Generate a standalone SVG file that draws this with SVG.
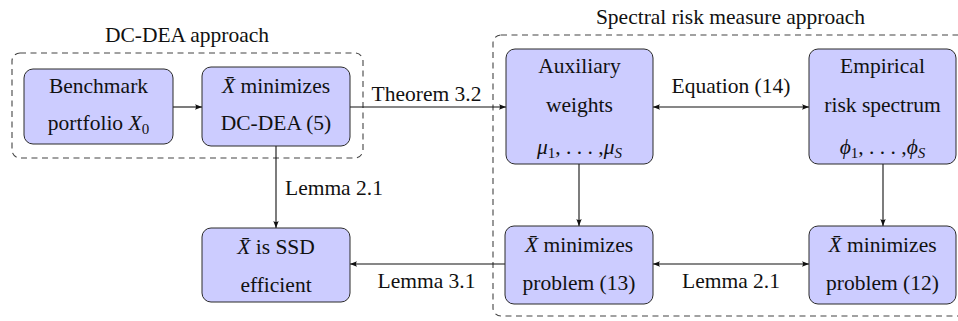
<svg xmlns="http://www.w3.org/2000/svg" width="958" height="321" viewBox="0 0 958 321">
<style>
.node{fill:#ccccff;stroke:#2b2b2b;stroke-width:1}
.grp{fill:none;stroke:#444;stroke-width:1.1;stroke-dasharray:6 4.5}
.t{font-family:"Liberation Serif","Times New Roman",serif;font-size:21.5px;fill:#111;text-anchor:middle}
.l{font-family:"Liberation Serif","Times New Roman",serif;font-size:21.5px;fill:#111}
.i{font-style:italic}
.c{fill:none;stroke:#111;stroke-width:1.1}
</style>
<defs>
<marker id="ah" viewBox="-8 -4 9 8" refX="0" refY="0" markerWidth="9" markerHeight="8" markerUnits="userSpaceOnUse" orient="auto-start-reverse">
<path d="M0,0 L-7,-2.7 Q-5,0 -7,2.7 Z" fill="#111"/>
</marker>
</defs>

<g id="groups">
<rect class="grp" x="12" y="53" width="351" height="105" rx="8"/>
<text class="l" x="187" y="42" text-anchor="middle">DC-DEA approach</text>
<rect class="grp" x="493" y="35" width="480" height="281" rx="8"/>
<text class="l" x="730.5" y="24" text-anchor="middle">Spectral risk measure approach</text>
</g>

<g id="connectors">
<line class="c" x1="173" y1="107" x2="202" y2="107" marker-end="url(#ah)"/>
<line class="c" x1="350" y1="107" x2="506" y2="107" marker-end="url(#ah)"/>
<text class="l" x="426.5" y="101" text-anchor="middle">Theorem 3.2</text>
<line class="c" x1="653" y1="107" x2="809" y2="107" marker-start="url(#ah)" marker-end="url(#ah)"/>
<text class="l" x="731" y="93" text-anchor="middle">Equation (14)</text>
<line class="c" x1="276" y1="146" x2="276" y2="228" marker-end="url(#ah)"/>
<text class="l" x="285" y="195">Lemma 2.1</text>
<line class="c" x1="579" y1="164" x2="579" y2="226" marker-end="url(#ah)"/>
<line class="c" x1="883" y1="164" x2="883" y2="226" marker-end="url(#ah)"/>
<line class="c" x1="505" y1="264" x2="350" y2="264" marker-end="url(#ah)"/>
<text class="l" x="426.5" y="288" text-anchor="middle">Lemma 3.1</text>
<line class="c" x1="653" y1="264" x2="809" y2="264" marker-start="url(#ah)" marker-end="url(#ah)"/>
<text class="l" x="731" y="288" text-anchor="middle">Lemma 2.1</text>
</g>

<g id="benchmark">
<rect class="node" x="24" y="69" width="149" height="75" rx="9"/>
<text class="t" x="98.5" y="93">Benchmark</text>
<text class="t" x="98.5" y="130">portfolio <tspan class="i">X</tspan><tspan font-size="15" dy="4">0</tspan></text>
</g>

<g id="dcdea">
<rect class="node" x="202" y="67" width="148" height="79" rx="9"/>
<text class="t" x="276" y="93"><tspan class="i">X̄</tspan> minimizes</text>
<text class="t" x="276" y="130">DC-DEA (5)</text>
</g>

<g id="ssd">
<rect class="node" x="202" y="228" width="148" height="74" rx="9"/>
<text class="t" x="276" y="254"><tspan class="i">X̄</tspan> is SSD</text>
<text class="t" x="276" y="292">efficient</text>
</g>

<g id="auxiliary">
<rect class="node" x="506" y="49" width="147" height="115" rx="9"/>
<text class="t" x="579.5" y="72.5">Auxiliary</text>
<text class="t" x="579.5" y="111.5">weights</text>
<text class="t" x="579.5" y="154"><tspan class="i">μ</tspan><tspan font-size="15" dy="4">1</tspan><tspan dy="-4">, . . . ,</tspan><tspan class="i">μ</tspan><tspan class="i" font-size="15" dy="4">S</tspan></text>
</g>

<g id="empirical">
<rect class="node" x="809" y="49" width="147" height="115" rx="9"/>
<text class="t" x="882.5" y="72.5">Empirical</text>
<text class="t" x="882.5" y="111.5">risk spectrum</text>
<text class="t" x="882.5" y="154"><tspan class="i">ϕ</tspan><tspan font-size="15" dy="4">1</tspan><tspan dy="-4">, . . . ,</tspan><tspan class="i">ϕ</tspan><tspan class="i" font-size="15" dy="4">S</tspan></text>
</g>

<g id="problem13">
<rect class="node" x="505" y="226" width="148" height="78" rx="9"/>
<text class="t" x="579" y="252"><tspan class="i">X̄</tspan> minimizes</text>
<text class="t" x="579" y="290">problem (13)</text>
</g>

<g id="problem12">
<rect class="node" x="809" y="226" width="147" height="78" rx="9"/>
<text class="t" x="882.5" y="252"><tspan class="i">X̄</tspan> minimizes</text>
<text class="t" x="882.5" y="290">problem (12)</text>
</g>
</svg>
